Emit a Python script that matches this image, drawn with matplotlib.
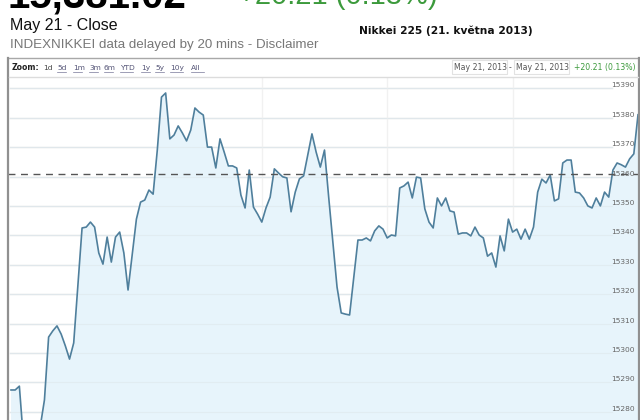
import matplotlib
matplotlib.use("Agg")
import matplotlib.pyplot as plt
from matplotlib.lines import Line2D
from matplotlib.patches import Rectangle
import matplotlib.transforms as mtransforms

# ---- data ----
prices = [15287.4, 15287.4, 15288.7, 15270.0, 15266.0, 15265.0, 15268.0, 15275.0, 15284.0, 15305.4,
          15307.5, 15309.2, 15306.4, 15302.4, 15297.9, 15303.4, 15323.1, 15342.5, 15342.8, 15344.5,
          15342.8, 15334.0, 15330.2, 15339.4, 15330.9, 15339.4, 15341.1, 15334.0, 15321.4, 15333.6,
          15345.5, 15351.3, 15352.0, 15355.4, 15354.0, 15369.0, 15387.0, 15388.4, 15372.8, 15374.1,
          15377.2, 15374.8, 15372.1, 15375.8, 15383.3, 15381.9, 15380.9, 15370.0, 15370.0, 15362.9,
          15372.8, 15368.3, 15363.6, 15363.6, 15362.9, 15353.7, 15349.3, 15362.2, 15349.6, 15347.2,
          15344.5, 15349.3, 15353.0, 15362.6, 15361.2, 15359.9, 15359.5, 15348.0, 15354.7, 15359.2,
          15360.2, 15367.3, 15374.5, 15368.3, 15363.2, 15369.0, 15353.0, 15337.7, 15322.4, 15313.6,
          15313.2, 15312.9, 15325.8, 15338.4, 15338.4, 15339.1, 15338.1, 15341.5, 15343.2, 15342.1,
          15339.1, 15340.1, 15339.8, 15356.1, 15356.8, 15358.1, 15352.7, 15359.8, 15359.5, 15349.0,
          15344.5, 15342.5, 15352.7, 15350.0, 15352.7, 15348.3, 15347.9, 15340.4, 15340.8, 15340.8,
          15339.8, 15342.8, 15340.1, 15339.1, 15332.9, 15334.0, 15329.2, 15339.8, 15334.7, 15345.5,
          15341.1, 15342.1, 15338.7, 15342.1, 15338.7, 15342.8, 15354.7, 15359.1, 15357.8, 15360.5,
          15351.7, 15352.4, 15364.6, 15365.6, 15365.6, 15354.7, 15354.4, 15352.7, 15350.0, 15349.3,
          15352.7, 15350.0, 15354.7, 15353.0, 15362.2, 15364.6, 15364.0, 15363.2, 15366.0, 15367.7,
          15381.0]
prev_close = 15360.81
y_ticks = [15280, 15290, 15300, 15310, 15320, 15330, 15340, 15350, 15360, 15370, 15380, 15390]
zoom_links = ["1d", "5d", "1m", "3m", "6m", "YTD", "1y", "5y", "10y", "All"]
last_price = "15,381.02"
change = "+20.21 (0.13%)"
date_text = "May 21, 2013"

W, H = 640, 420
fig = plt.figure(figsize=(W / 100, H / 100), dpi=100)
fig.patch.set_facecolor("white")

def fx(x):
    return x / W

def fy(y):
    return 1 - y / H

# ---- header texts ----
fig.text(fx(8), fy(8), last_price, fontsize=29, fontweight="bold", color="#000000",
         family="Liberation Sans", va="baseline", ha="left")
fig.text(fx(238), fy(4), change, fontsize=21, color="#3c9a3c",
         family="Liberation Sans", va="baseline", ha="left")
fig.text(fx(10), fy(30), "May 21 - Close", fontsize=11.5, color="#111111",
         family="Liberation Sans", va="baseline", ha="left")
fig.text(fx(10), fy(48), "INDEXNIKKEI data delayed by 20 mins - Disclaimer", fontsize=9.6,
         color="#777777", family="Liberation Sans", va="baseline", ha="left")
fig.text(fx(359), fy(34), "Nikkei 225 (21. května 2013)", fontsize=7.7, fontweight="bold",
         color="#111111", family="DejaVu Sans", va="baseline", ha="left")

# ---- chart frame ----
ax_left, ax_right, ax_top = 8, 639, 77
ax = fig.add_axes([fx(ax_left), 0, (ax_right - ax_left) / W, (H - ax_top) / H])
n = len(prices)
xs = list(range(n))
step = (638 - 11) / (n - 1)
ax.set_xlim(-(11 - ax_left) / step, (ax_right - 11) / step)
ax.set_ylim(15277.19, 15393.84)
for s in ax.spines.values():
    s.set_visible(False)
ax.set_xticks([])
ax.set_yticks([])

grid_xmax = (612 - ax_left) / (ax_right - ax_left)
for t in y_ticks:
    ax.axhline(t, xmin=(10 - ax_left) / (ax_right - ax_left), xmax=grid_xmax,
               color="#e4e4e4", lw=1.0, zorder=1)
for vx in [262, 387, 513]:
    ax.axvline((vx - 11) / step, color="#f1f1f1", lw=1.0, zorder=1)

ax.fill_between(xs, prices, 15200, color="#e7f4fb", lw=0, zorder=2)
for t in y_ticks:
    ax.axhline(t, xmin=(10 - ax_left) / (ax_right - ax_left), xmax=grid_xmax,
               color="#dfe9ee", lw=0.8, zorder=2.5, alpha=0.7)
ax.plot(xs, prices, color="#4f7f9c", lw=1.2, zorder=4)
ax.axhline(prev_close, color="#555555", lw=1.0, ls=(0, (5, 4)), zorder=5)

trans = mtransforms.blended_transform_factory(ax.transAxes, ax.transData)
lab_x = (635 - ax_left) / (ax_right - ax_left)
off = 3 * 0.3401
for t in y_ticks:
    ax.text(lab_x, t + off, str(t), transform=trans, ha="right", va="center",
            fontsize=5.4, color="#666666", family="DejaVu Sans", zorder=6)

# frame lines
fig.add_artist(Line2D([fx(8), fx(639)], [fy(58), fy(58)], color="#a8a8a8", lw=1.0))
fig.add_artist(Line2D([fx(8), fx(8)], [fy(58), 0], color="#909090", lw=1.6))
fig.add_artist(Line2D([fx(639), fx(639)], [fy(58), 0], color="#909090", lw=1.6))
fig.add_artist(Line2D([fx(9), fx(638)], [fy(76.5), fy(76.5)], color="#dcdcdc", lw=1.0))

# toolbar
fig.text(fx(12), fy(70), "Zoom:", fontsize=5.6, fontweight="bold", color="#222222",
         family="DejaVu Sans", va="baseline", ha="left")
link_x = [43, 57, 73, 89, 104, 120, 141, 155, 170, 191]
for lx, lab in zip(link_x, zoom_links):
    fig.text(fx(lx), fy(70), lab, fontsize=5.4, color="#444444" if lab == "1d" else "#555577",
             family="DejaVu Sans", va="baseline", ha="left")
    if lab != "1d":
        w = 4.2 * len(lab) + 0.5
        fig.add_artist(Line2D([fx(lx), fx(lx + w)], [fy(71.5), fy(71.5)], color="#777799", lw=0.5))

fig.add_artist(Rectangle((fx(452), fy(74)), (507 - 452) / W, 14 / H, transform=fig.transFigure,
                         fill=False, edgecolor="#e2e2e2", lw=0.8))
fig.add_artist(Rectangle((fx(514), fy(74)), (569 - 514) / W, 14 / H, transform=fig.transFigure,
                         fill=False, edgecolor="#e2e2e2", lw=0.8))
fig.text(fx(454), fy(70), date_text, fontsize=5.6, color="#555555", family="DejaVu Sans",
         va="baseline", ha="left")
fig.text(fx(509), fy(70), "-", fontsize=5.6, color="#555555", family="DejaVu Sans",
         va="baseline", ha="left")
fig.text(fx(516), fy(70), date_text, fontsize=5.6, color="#555555", family="DejaVu Sans",
         va="baseline", ha="left")
fig.text(fx(636), fy(70), change, fontsize=5.6, color="#3c9a3c", family="DejaVu Sans",
         va="baseline", ha="right")

fig.savefig("out.png", dpi=100)
